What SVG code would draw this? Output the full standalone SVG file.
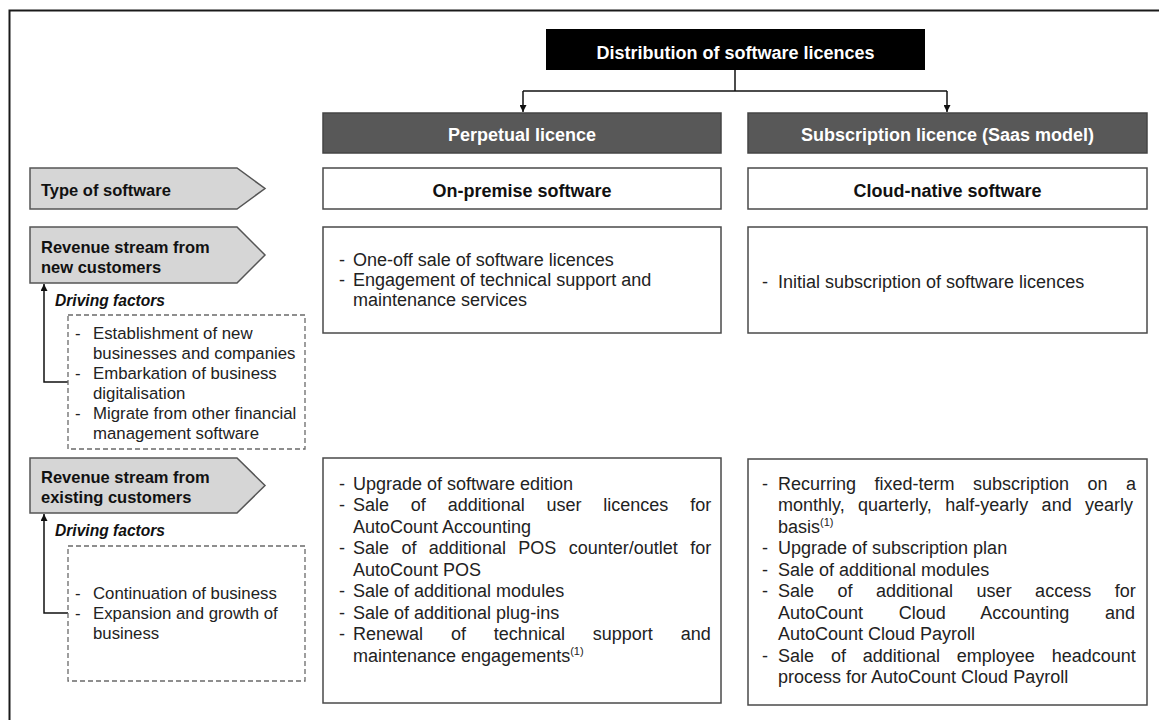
<svg xmlns="http://www.w3.org/2000/svg" width="1159" height="720" viewBox="0 0 1159 720">
<style>
  text { font-family: "Liberation Sans", Arial, sans-serif; }
  .hdr { font-size: 18px; font-weight: bold; fill: #ffffff; text-anchor: middle; }
  .sub { font-size: 18px; font-weight: bold; fill: #111111; text-anchor: middle; }
  .lbl { font-size: 16.5px; font-weight: bold; fill: #111111; }
  .drv { font-size: 15.6px; font-weight: bold; font-style: italic; fill: #111111; }
  .body { font-size: 18px; fill: #222222; }
  .small { font-size: 16.8px; fill: #222222; }
  .sup { font-size: 11px; }
  .dark { fill: #585858; stroke: #444444; stroke-width: 1.5; }
  .wbox { fill: #ffffff; stroke: #4a4a4a; stroke-width: 1.5; }
  .pent { fill: #d6d6d6; stroke: #555555; stroke-width: 1.5; }
  .dash { fill: none; stroke: #6a6a6a; stroke-width: 1.3; stroke-dasharray: 5 3; }
  .conn { fill: none; stroke: #111111; stroke-width: 1.5; }
</style>
<defs>
  <marker id="ah" viewBox="0 0 10 10" refX="10" refY="5" markerWidth="7" markerHeight="7" markerUnits="userSpaceOnUse" orient="auto">
    <path d="M0,0 L10,5 L0,10 z" fill="#111111"/>
  </marker>
</defs>
<rect x="0" y="0" width="1159" height="720" fill="#ffffff"/>
<rect x="9.5" y="10.5" width="1160" height="720" fill="none" stroke="#1a1a1a" stroke-width="2"/>

<g id="connectors">
  <path class="conn" d="M735,70 V91"/>
  <path class="conn" d="M523,91 H947"/>
  <path class="conn" d="M523,91 V112" marker-end="url(#ah)"/>
  <path class="conn" d="M947,91 V112" marker-end="url(#ah)"/>
  <path class="conn" d="M68,382 H44 V284" marker-end="url(#ah)"/>
  <path class="conn" d="M68,613 H44 V514" marker-end="url(#ah)"/>
</g>

<g id="title">
  <rect x="546" y="29" width="379" height="41" fill="#000000"/>
  <text class="hdr" x="735.5" y="58.5">Distribution of software licences</text>
</g>

<g id="perpetual">
  <rect class="dark" x="323" y="113" width="398" height="40"/>
  <text class="hdr" x="522" y="140.5">Perpetual licence</text>
</g>
<g id="subscription">
  <rect class="dark" x="748" y="113" width="399" height="40"/>
  <text class="hdr" x="947.5" y="140.5">Subscription licence (Saas model)</text>
</g>

<g id="type-label">
  <polygon class="pent" points="30,168 237,168 265,188.5 237,209 30,209"/>
  <text class="lbl" x="41" y="196">Type of software</text>
</g>
<g id="on-premise">
  <rect class="wbox" x="323" y="168" width="398" height="41"/>
  <text class="sub" x="522" y="196.5">On-premise software</text>
</g>
<g id="cloud-native">
  <rect class="wbox" x="748" y="168" width="399" height="41"/>
  <text class="sub" x="947.5" y="196.5">Cloud-native software</text>
</g>

<g id="new-label">
  <polygon class="pent" points="30,227 237,227 265,255 237,283 30,283"/>
  <text class="lbl" x="41" y="253">Revenue stream from</text>
  <text class="lbl" x="41" y="273">new customers</text>
  <text class="drv" x="55" y="305.5">Driving factors</text>
</g>
<g id="new-factors">
  <rect class="dash" x="68" y="315" width="237" height="134"/>
  <text class="small" x="75" y="339">-</text>
  <text class="small" x="93" y="339">Establishment of new</text>
  <text class="small" x="93" y="359">businesses and companies</text>
  <text class="small" x="75" y="379">-</text>
  <text class="small" x="93" y="379">Embarkation of business</text>
  <text class="small" x="93" y="399">digitalisation</text>
  <text class="small" x="75" y="419">-</text>
  <text class="small" x="93" y="419">Migrate from other financial</text>
  <text class="small" x="93" y="439">management software</text>
</g>

<g id="perpetual-new">
  <rect class="wbox" x="323" y="227" width="398" height="106"/>
  <text class="body" x="339" y="266">-</text>
  <text class="body" x="353" y="266">One-off sale of software licences</text>
  <text class="body" x="339" y="286">-</text>
  <text class="body" x="353" y="286">Engagement of technical support and</text>
  <text class="body" x="353" y="306">maintenance services</text>
</g>
<g id="subscription-new">
  <rect class="wbox" x="748" y="227" width="399" height="106"/>
  <text class="body" x="762" y="287.5">-</text>
  <text class="body" x="778" y="287.5">Initial subscription of software licences</text>
</g>

<g id="existing-label">
  <polygon class="pent" points="30,458 237,458 265,485.5 237,513 30,513"/>
  <text class="lbl" x="41" y="483">Revenue stream from</text>
  <text class="lbl" x="41" y="503">existing customers</text>
  <text class="drv" x="55" y="535.5">Driving factors</text>
</g>
<g id="existing-factors">
  <rect class="dash" x="68" y="546" width="237" height="135"/>
  <text class="small" x="75" y="599">-</text>
  <text class="small" x="93" y="599">Continuation of business</text>
  <text class="small" x="75" y="619">-</text>
  <text class="small" x="93" y="619">Expansion and growth of</text>
  <text class="small" x="93" y="639">business</text>
</g>

<g id="perpetual-existing">
  <rect class="wbox" x="323" y="458" width="398" height="245"/>
  <text class="body" x="339" y="489.5">-</text>
  <text class="body" x="353" y="489.5">Upgrade of software edition</text>
  <text class="body" x="339" y="511">-</text>
  <text class="body" x="353" y="511" word-spacing="16.8">Sale of additional user licences for</text>
  <text class="body" x="353" y="532.5">AutoCount Accounting</text>
  <text class="body" x="339" y="554">-</text>
  <text class="body" x="353" y="554" word-spacing="7.4">Sale of additional POS counter/outlet for</text>
  <text class="body" x="353" y="575.5">AutoCount POS</text>
  <text class="body" x="339" y="597">-</text>
  <text class="body" x="353" y="597">Sale of additional modules</text>
  <text class="body" x="339" y="618.5">-</text>
  <text class="body" x="353" y="618.5">Sale of additional plug-ins</text>
  <text class="body" x="339" y="640">-</text>
  <text class="body" x="353" y="640" word-spacing="22.9">Renewal of technical support and</text>
  <text class="body" x="353" y="661.5">maintenance engagements<tspan class="sup" dy="-7">(1)</tspan></text>
</g>

<g id="subscription-existing">
  <rect class="wbox" x="748" y="459" width="399" height="246"/>
  <text class="body" x="762" y="489.5">-</text>
  <text class="body" x="778" y="489.5" word-spacing="13.5">Recurring fixed-term subscription on a</text>
  <text class="body" x="778" y="511" word-spacing="8.4">monthly, quarterly, half-yearly and yearly</text>
  <text class="body" x="778" y="532.5">basis<tspan class="sup" dy="-7">(1)</tspan></text>
  <text class="body" x="762" y="554">-</text>
  <text class="body" x="778" y="554">Upgrade of subscription plan</text>
  <text class="body" x="762" y="575.5">-</text>
  <text class="body" x="778" y="575.5">Sale of additional modules</text>
  <text class="body" x="762" y="597">-</text>
  <text class="body" x="778" y="597" word-spacing="18.5">Sale of additional user access for</text>
  <text class="body" x="778" y="618.5" word-spacing="30.6">AutoCount Cloud Accounting and</text>
  <text class="body" x="778" y="640">AutoCount Cloud Payroll</text>
  <text class="body" x="762" y="661.5">-</text>
  <text class="body" x="778" y="661.5" word-spacing="11.9">Sale of additional employee headcount</text>
  <text class="body" x="778" y="683">process for AutoCount Cloud Payroll</text>
</g>
</svg>
